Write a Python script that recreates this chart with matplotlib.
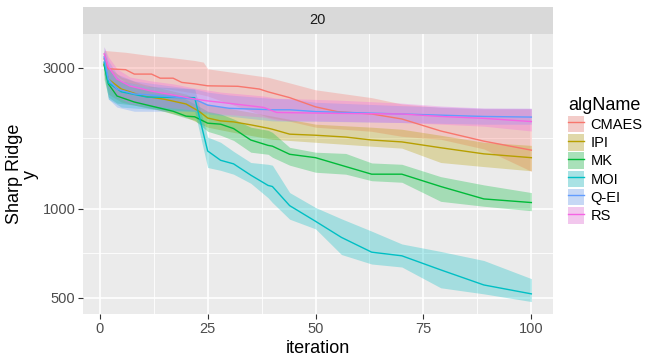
import numpy as np
import matplotlib
matplotlib.use("Agg")
import matplotlib.pyplot as plt
from matplotlib.patches import Patch
from matplotlib.lines import Line2D
from matplotlib.ticker import NullFormatter

plt.rcParams['font.family'] = ['Liberation Sans Narrow', 'Liberation Sans', 'DejaVu Sans']

# values (median line + ribbon bounds per algorithm)
alg_names = ["CMAES", "IPI", "MK", "MOI", "Q-EI", "RS"]
alg_colors = ["#F8766D", "#B79F00", "#00BA38", "#00BFC4", "#619CFF", "#F564E3"]

cmaes_it = [1, 2, 6, 8, 12, 14, 17, 19, 22, 25, 32, 37, 39, 44, 50, 55, 63, 70, 79, 89, 100]
cmaes_y = [3220, 2980, 2960, 2860, 2860, 2770, 2770, 2680, 2650, 2610, 2600, 2545, 2490,
           2380, 2215, 2135, 2095, 2015, 1835, 1695, 1580]
cmaes_band_it = [1, 6, 12, 16, 22, 24, 25, 39, 44, 50, 63, 70, 79, 89, 100]
cmaes_hi = [3440, 3390, 3300, 3260, 3180, 3140, 2980, 2790, 2670, 2530, 2380, 2265, 2205, 2180, 2180]
cmaes_lo = [3020, 2680, 2585, 2545, 2465, 2430, 2410, 2045, 1980, 1890, 1830, 1760, 1720, 1595, 1340]

ipi_it = [1, 2, 5, 10, 15, 20, 23, 25, 28, 31, 35, 39, 40, 44, 50, 57, 63, 70, 79, 89, 100]
ipi_y = [3095, 2750, 2545, 2410, 2350, 2265, 2140, 2030, 1985, 1970, 1925, 1875, 1860,
         1790, 1775, 1750, 1710, 1685, 1610, 1535, 1490]
ipi_band_it = [1, 2, 5, 10, 15, 20, 25, 31, 40, 50, 63, 70, 79, 89, 100]
ipi_hi = [3430, 3025, 2795, 2645, 2545, 2445, 2265, 2175, 2060, 1935, 1890, 1860, 1775, 1680, 1640]
ipi_lo = [2860, 2445, 2300, 2210, 2140, 2045, 1890, 1815, 1720, 1680, 1630, 1605, 1435, 1390, 1345]

mk_it = [1, 2, 4, 8, 13, 17, 20, 22, 25, 28, 31, 35, 39, 40, 44, 50, 57, 63, 70, 79, 89, 100]
mk_y = [3070, 2650, 2410, 2300, 2210, 2140, 2060, 2050, 1950, 1935, 1870, 1710, 1640, 1630,
        1530, 1490, 1390, 1310, 1310, 1190, 1080, 1050]
mk_hi = [3350, 2980, 2750, 2585, 2505, 2450, 2350, 2265, 2140, 2095, 2015, 1890, 1845, 1815,
         1615, 1555, 1540, 1430, 1415, 1285, 1205, 1135]
mk_lo = [2750, 2390, 2280, 2245, 2175, 2095, 2030, 1995, 1830, 1775, 1705, 1555, 1530, 1495,
         1405, 1330, 1310, 1245, 1230, 1060, 1020, 985]

moi_it = [1, 2, 5, 11, 22, 25, 28, 31, 35, 39, 40, 44, 50, 56, 63, 70, 79, 89, 100]
moi_y = [3140, 2670, 2490, 2390, 2380, 1570, 1460, 1420, 1300, 1200, 1190, 1025, 907, 800,
         713, 693, 621, 552, 515]
moi_hi = [3430, 2980, 2710, 2600, 2545, 1750, 1680, 1565, 1435, 1415, 1405, 1135, 1010, 925,
          840, 760, 717, 668, 580]
moi_lo = [2860, 2355, 2210, 2180, 2140, 1380, 1350, 1310, 1220, 1090, 1050, 922, 855, 700,
          650, 635, 540, 515, 485]

qei_it = [1, 2, 4, 8, 15, 22, 25, 30, 40, 44, 50, 70, 89, 100]
qei_y = [3270, 2750, 2545, 2450, 2410, 2350, 2245, 2190, 2165, 2165, 2135, 2095, 2055, 2045]
qei_hi = [3540, 3170, 2860, 2710, 2625, 2545, 2485, 2430, 2365, 2355, 2295, 2235, 2190, 2190]
qei_lo = [2980, 2355, 2210, 2140, 2140, 2140, 2095, 2060, 1985, 1980, 1980, 1960, 1935, 1935]

rs_it = [1, 2, 4, 7, 12, 17, 22, 25, 28, 38, 41, 55, 70, 79, 89, 100]
rs_y = [3350, 3025, 2750, 2605, 2505, 2430, 2355, 2320, 2295, 2205, 2120, 2105, 2095, 2055, 2025, 1975]
rs_hi = [3540, 3270, 2980, 2795, 2710, 2650, 2565, 2525, 2485, 2410, 2370, 2335, 2280, 2230, 2195, 2190]
rs_lo = [3025, 2585, 2390, 2280, 2230, 2195, 2160, 2125, 2095, 2045, 1995, 1980, 1960, 1935, 1905, 1835]

lines = [(cmaes_it, cmaes_y), (ipi_it, ipi_y), (mk_it, mk_y),
         (moi_it, moi_y), (qei_it, qei_y), (rs_it, rs_y)]
bands = [(cmaes_band_it, cmaes_lo, cmaes_hi), (ipi_band_it, ipi_lo, ipi_hi), (mk_it, mk_lo, mk_hi),
         (moi_it, moi_lo, moi_hi), (qei_it, qei_lo, qei_hi), (rs_it, rs_lo, rs_hi)]

W, H = 651, 360
fig = plt.figure(figsize=(W / 100, H / 100), dpi=100)
ax = fig.add_axes([82.7 / W, 1 - 314.3 / H, 470 / W, 280.3 / H])
ax.set_facecolor("#EBEBEB")
for s in ax.spines.values():
    s.set_visible(False)

# ribbons first, then lines on top
for (it, lo, hi), c in zip(bands, alg_colors):
    ax.fill_between(it, lo, hi, color=c, alpha=0.3, linewidth=0, zorder=2)
for (it, y), c in zip(lines, alg_colors):
    ax.plot(it, y, color=c, linewidth=1.0, zorder=3)

ax.set_yscale("log")
all_lo = min(min(b[1]) for b in bands)
all_hi = max(max(b[2]) for b in bands)
l0, l1 = np.log10(all_lo), np.log10(all_hi)
pad = (l1 - l0) * 0.05
ax.set_ylim(10 ** (l0 - pad), 10 ** (l1 + pad))
ax.set_xlim(1 - 99 * 0.05, 100 + 99 * 0.05)

ax.set_yticks([500, 1000, 3000])
ax.set_yticklabels(["500", "1000", "3000"])
ax.set_yticks([np.sqrt(500 * 1000), np.sqrt(1000 * 3000)], minor=True)
ax.yaxis.set_minor_formatter(NullFormatter())
ax.set_xticks([0, 25, 50, 75, 100])
ax.set_xticks([12.5, 37.5, 62.5, 87.5], minor=True)
ax.grid(which="major", color="white", linewidth=1.2, zorder=1)
ax.grid(which="minor", color="white", linewidth=0.6, zorder=1)
ax.set_axisbelow(True)
ax.tick_params(which="major", length=3.3, width=0.8, color="#333333",
               labelsize=10.5, labelcolor="#4D4D4D", pad=2)
ax.tick_params(which="minor", length=0)

ax.set_xlabel("iteration", fontsize=13, color="black", labelpad=3)
ax.set_ylabel("Sharp Ridge\ny", fontsize=13, color="black",
              multialignment="center", linespacing=0.9)
ax.yaxis.set_label_coords(-0.093, 0.5)

# facet strip
strip = fig.add_axes([82.7 / W, 1 - 34 / H, 470 / W, 27 / H])
strip.set_facecolor("#D9D9D9")
strip.set_xticks([])
strip.set_yticks([])
for s in strip.spines.values():
    s.set_visible(False)
strip.text(0.5, 0.5, "20", ha="center", va="center", fontsize=10.5, color="#1A1A1A")

handles = []
for c in alg_colors:
    handles.append((Patch(facecolor="#F2F2F2", edgecolor="none"),
                    Patch(facecolor=c, alpha=0.3, edgecolor="none"),
                    Line2D([], [], color=c, linewidth=1.0)))
leg = fig.legend(handles, alg_names, loc="upper left", bbox_to_anchor=(568 / W, 1 - 97 / H),
                 frameon=False, fontsize=10.5, title="algName", title_fontsize=13,
                 handlelength=1.1, handleheight=1.35, labelspacing=0.13,
                 handletextpad=0.45, borderpad=0, borderaxespad=0, alignment="left")

fig.savefig("out.png", dpi=100)
